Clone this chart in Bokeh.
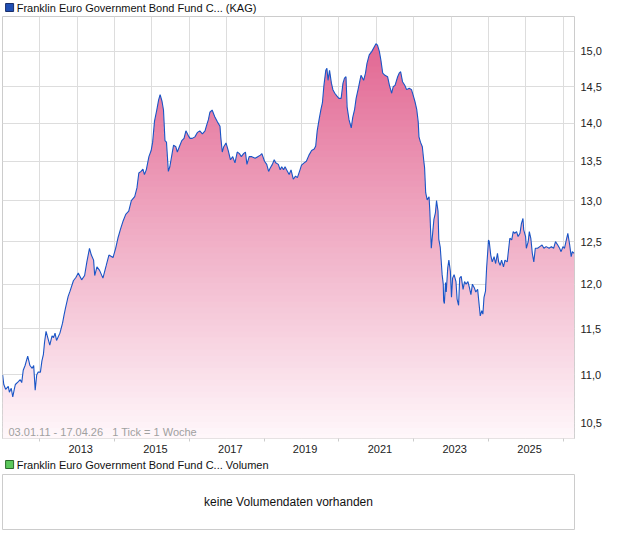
import numpy as np
from datetime import datetime, timezone
from bokeh.plotting import figure
from bokeh.layouts import column
from bokeh.models import Range1d, FixedTicker, CustomJSTickFormatter, Label
from bokeh.core.properties import value
from bokeh.embed import file_html
from bokeh.resources import INLINE

# ---------------- data ----------------
title_main = "Franklin Euro Government Bond Fund C... (KAG)"
title_vol = "Franklin Euro Government Bond Fund C... Volumen"
range_note = "03.01.11 - 17.04.26\u00a0\u00a0\u00a01 Tick = 1 Woche"
no_volume = "keine Volumendaten vorhanden"

# time as decimal years
t_years = [
    2011.01, 2011.04, 2011.09, 2011.16, 2011.19, 2011.24, 2011.28, 2011.32, 2011.35, 2011.43,
    2011.48, 2011.52, 2011.56, 2011.61, 2011.68, 2011.74, 2011.80, 2011.84, 2011.88, 2011.92,
    2011.96, 2012.02, 2012.06, 2012.10, 2012.13, 2012.17, 2012.23, 2012.27, 2012.33, 2012.37,
    2012.41, 2012.45, 2012.54, 2012.61, 2012.65, 2012.69, 2012.76, 2012.81, 2012.90, 2012.97,
    2013.03, 2013.12, 2013.20, 2013.26, 2013.33, 2013.38, 2013.44, 2013.47, 2013.53, 2013.60,
    2013.69, 2013.78, 2013.85, 2013.96, 2014.03, 2014.09, 2014.16, 2014.23, 2014.30, 2014.38,
    2014.45, 2014.54, 2014.60, 2014.65, 2014.71, 2014.76, 2014.80, 2014.85, 2014.92, 2014.98,
    2015.02, 2015.07, 2015.13, 2015.18, 2015.22, 2015.27, 2015.31, 2015.35, 2015.39, 2015.44,
    2015.48, 2015.54, 2015.58, 2015.64, 2015.68, 2015.75, 2015.80, 2015.86, 2015.91, 2015.97,
    2016.02, 2016.08, 2016.15, 2016.22, 2016.28, 2016.35, 2016.42, 2016.46, 2016.51, 2016.55,
    2016.61, 2016.68, 2016.75, 2016.82, 2016.84, 2016.88, 2016.92, 2016.98, 2017.04, 2017.10,
    2017.16, 2017.22, 2017.28, 2017.34, 2017.39, 2017.45, 2017.50, 2017.54, 2017.60, 2017.67,
    2017.76, 2017.83, 2017.90, 2017.94, 2018.01, 2018.07, 2018.12, 2018.16, 2018.22, 2018.27,
    2018.31, 2018.38, 2018.43, 2018.47, 2018.52, 2018.56, 2018.60, 2018.67, 2018.72, 2018.78,
    2018.84, 2018.89, 2018.96, 2019.00, 2019.07, 2019.13, 2019.20, 2019.27, 2019.34, 2019.38,
    2019.42, 2019.47, 2019.52, 2019.56, 2019.60, 2019.65, 2019.68, 2019.71, 2019.75, 2019.80,
    2019.84, 2019.89, 2019.95, 2020.00, 2020.06, 2020.11, 2020.15, 2020.19, 2020.22, 2020.27,
    2020.33, 2020.37, 2020.42, 2020.46, 2020.52, 2020.59, 2020.66, 2020.71, 2020.75, 2020.81,
    2020.88, 2020.95, 2020.99, 2021.03, 2021.08, 2021.12, 2021.17, 2021.23, 2021.30, 2021.35,
    2021.41, 2021.45, 2021.50, 2021.57, 2021.61, 2021.65, 2021.70, 2021.76, 2021.81, 2021.88,
    2021.94, 2021.98, 2022.03, 2022.08, 2022.12, 2022.14, 2022.18, 2022.23, 2022.27, 2022.29,
    2022.32, 2022.36, 2022.41, 2022.43, 2022.47, 2022.51, 2022.54, 2022.58, 2022.61, 2022.65,
    2022.67, 2022.71, 2022.76, 2022.79, 2022.80, 2022.82, 2022.85, 2022.87, 2022.91, 2022.94,
    2022.98, 2023.01, 2023.04, 2023.08, 2023.13, 2023.16, 2023.20, 2023.23, 2023.27, 2023.32,
    2023.36, 2023.40, 2023.45, 2023.49, 2023.53, 2023.57, 2023.62, 2023.66, 2023.71, 2023.74,
    2023.78, 2023.82, 2023.85, 2023.88, 2023.92, 2023.95, 2023.98, 2024.00, 2024.02, 2024.06,
    2024.10, 2024.15, 2024.19, 2024.24, 2024.27, 2024.31, 2024.35, 2024.40, 2024.44, 2024.50,
    2024.54, 2024.57, 2024.62, 2024.66, 2024.70, 2024.75, 2024.79, 2024.84, 2024.88, 2024.92,
    2024.94, 2024.99, 2025.01, 2025.06, 2025.09, 2025.13, 2025.17, 2025.21, 2025.25, 2025.31,
    2025.37, 2025.43, 2025.48, 2025.54, 2025.62, 2025.68, 2025.74, 2025.79, 2025.85, 2025.90,
    2025.94, 2025.99, 2026.03, 2026.07, 2026.12, 2026.17, 2026.21, 2026.24, 2026.29,
]
prices = [
    11.00, 10.90, 10.85, 10.88, 10.82, 10.86, 10.77, 10.85, 10.90, 10.93,
    10.95, 10.92, 11.05, 11.10, 11.20, 11.10, 11.07, 11.10, 10.84, 11.00,
    11.03, 11.03, 11.15, 11.22, 11.35, 11.47, 11.38, 11.32, 11.42, 11.40,
    11.45, 11.37, 11.45, 11.56, 11.65, 11.73, 11.86, 11.92, 12.04, 12.08,
    12.13, 12.05, 12.10, 12.26, 12.42, 12.34, 12.28, 12.10, 12.20, 12.16,
    12.07, 12.22, 12.34, 12.31, 12.42, 12.54, 12.65, 12.75, 12.83, 12.87,
    13.00, 13.05, 13.16, 13.35, 13.37, 13.40, 13.33, 13.39, 13.56, 13.64,
    13.75, 14.03, 14.18, 14.32, 14.39, 14.30, 14.18, 13.77, 13.75, 13.37,
    13.43, 13.60, 13.71, 13.69, 13.62, 13.71, 13.77, 13.80, 13.90, 13.84,
    13.80, 13.80, 13.82, 13.88, 13.90, 13.86, 13.90, 13.97, 14.05, 14.15,
    14.18, 14.09, 14.02, 13.96, 13.82, 13.62, 13.69, 13.74, 13.64, 13.52,
    13.56, 13.48, 13.62, 13.60, 13.56, 13.60, 13.62, 13.46, 13.56, 13.56,
    13.54, 13.56, 13.58, 13.60, 13.50, 13.46, 13.37, 13.41, 13.46, 13.52,
    13.48, 13.46, 13.39, 13.43, 13.39, 13.43, 13.39, 13.33, 13.39, 13.27,
    13.31, 13.29, 13.39, 13.45, 13.48, 13.50, 13.58, 13.64, 13.66, 13.70,
    13.90, 14.05, 14.19, 14.28, 14.52, 14.73, 14.76, 14.59, 14.73, 14.55,
    14.46, 14.41, 14.37, 14.34, 14.34, 14.55, 14.62, 14.64, 14.22, 14.05,
    13.94, 14.08, 14.19, 14.34, 14.48, 14.66, 14.59, 14.69, 14.83, 14.95,
    15.00, 15.07, 15.11, 15.09, 15.00, 14.88, 14.69, 14.66, 14.64, 14.52,
    14.41, 14.50, 14.52, 14.64, 14.69, 14.71, 14.57, 14.52, 14.46, 14.48,
    14.46, 14.39, 14.30, 14.19, 14.02, 13.82, 13.75, 13.69, 13.50, 13.42,
    13.10, 13.01, 13.05, 12.88, 12.42, 12.62, 12.77, 12.85, 13.00, 12.87,
    12.53, 12.43, 12.11, 12.00, 11.81, 11.78, 12.02, 11.91, 12.19, 12.28,
    12.15, 11.85, 12.07, 12.11, 12.03, 11.83, 11.76, 12.07, 12.09, 11.94,
    12.03, 12.00, 12.03, 11.96, 11.88, 12.00, 11.96, 11.91, 11.94, 11.81,
    11.64, 11.70, 11.66, 11.85, 11.92, 12.19, 12.38, 12.52, 12.50, 12.34,
    12.26, 12.32, 12.24, 12.36, 12.26, 12.22, 12.28, 12.20, 12.28, 12.26,
    12.42, 12.54, 12.52, 12.62, 12.60, 12.62, 12.56, 12.60, 12.72, 12.78,
    12.64, 12.56, 12.42, 12.50, 12.62, 12.54, 12.36, 12.26, 12.42, 12.42,
    12.44, 12.46, 12.42, 12.44, 12.42, 12.44, 12.42, 12.50, 12.46, 12.42,
    12.38, 12.44, 12.42, 12.50, 12.60, 12.46, 12.32, 12.38, 12.36,
]
y_ticks = [10.5, 11.0, 11.5, 12.0, 12.5, 13.0, 13.5, 14.0, 14.5, 15.0]
label_years = [2013, 2015, 2017, 2019, 2021, 2023, 2025]
grid_years = list(range(2012, 2027))
minor_years = [2012, 2014, 2016, 2018, 2020, 2022, 2024, 2026]

# ---------------- helpers ----------------
def ms(dt):
    return dt.replace(tzinfo=timezone.utc).timestamp() * 1000.0

def year_ms(t):
    y = int(t)
    a = ms(datetime(y, 1, 1))
    b = ms(datetime(y + 1, 1, 1))
    return a + (b - a) * (t - y)

x = np.array([year_ms(t) for t in t_years])
v = np.array(prices)

x_start = ms(datetime(2011, 1, 3))
x_end = ms(datetime(2026, 4, 20))
y_lo, y_hi = 10.35, 15.51

FONT = "Liberation Sans"
BLUE = "#1a55c6"
W = 604


def legend_row(text, fill, line, height, from_top):
    f = figure(width=W, height=height, x_range=Range1d(0, W), y_range=Range1d(0, height),
               x_axis_location=None, y_axis_location=None, output_backend="svg",
               toolbar_location=None, min_border=0)
    f.outline_line_color = None
    f.grid.visible = False
    f.scatter(x=[7.5], y=[height - from_top], marker="square", size=8,
              fill_color=fill, line_color=line)
    f.text(x=[15], y=[height - from_top], text=[text], text_font=value(FONT),
           text_font_size="11px", text_color="#111111", text_baseline="middle",
           text_align="left")
    return f


# ---------------- main chart ----------------
p = figure(width=W, height=441, x_axis_type="datetime", y_axis_type="log",
           y_axis_location="right", x_range=Range1d(x_start, x_end),
           y_range=Range1d(y_lo, y_hi), output_backend="svg", toolbar_location=None,
           min_border_left=2, min_border_right=0, min_border_top=2, min_border_bottom=0,
           background_fill_color="white", border_fill_color="white")
p.outline_line_color = "#cccccc"

# gradient fill, drawn as thin horizontal bands under the price line
n_bands = 70
edges = np.geomspace(y_lo, y_hi, n_bands + 1)
top = np.array([224, 94, 140])
bot = np.array([255, 248, 251])
for k in range(n_bands):
    a = edges[k] / 1.0015
    b = edges[k + 1]
    f = (np.log(np.sqrt(edges[k] * b)) - np.log(y_lo)) / (np.log(y_hi) - np.log(y_lo))
    c = bot + (top - bot) * f
    col = "#%02x%02x%02x" % tuple(int(round(q)) for q in c)
    y1 = np.minimum(v, a)
    y2 = np.minimum(v, b)
    p.varea(x=x, y1=y1, y2=y2, fill_color=col, fill_alpha=1.0)

p.line(x=x, y=v, line_color=BLUE, line_width=1.1)

yax = p.yaxis[0]
yax.ticker = FixedTicker(ticks=y_ticks, minor_ticks=[])
yax.formatter = CustomJSTickFormatter(code="return tick.toFixed(1).replace('.', ',');")
yax.axis_line_color = None
yax.major_tick_out = 0
yax.major_tick_in = 0
yax.minor_tick_out = 0
yax.major_label_standoff = 6
yax.major_label_text_font = FONT
yax.major_label_text_font_size = "11px"
yax.major_label_text_color = "#222222"

xax = p.xaxis[0]
label_pos = [ms(datetime(y, 2, 5)) for y in label_years]
xax.ticker = FixedTicker(ticks=label_pos, minor_ticks=[ms(datetime(y, 1, 1)) for y in minor_years])
xax.formatter = CustomJSTickFormatter(code="return String(new Date(tick).getUTCFullYear());")
xax.axis_line_color = None
xax.major_tick_out = 0
xax.major_tick_in = 0
xax.minor_tick_out = 3
xax.minor_tick_in = 0
xax.minor_tick_line_color = "#cccccc"
xax.major_label_standoff = 3
xax.major_label_text_font = FONT
xax.major_label_text_font_size = "11px"
xax.major_label_text_color = "#222222"

p.xgrid.ticker = FixedTicker(ticks=[ms(datetime(y, 1, 1)) for y in grid_years])
p.xgrid.grid_line_color = "#dddddd"
p.ygrid.grid_line_color = "#dddddd"

note = Label(x=x_start, y=y_lo, x_offset=6, y_offset=1, text=range_note,
             text_font=FONT, text_font_size="11px", text_color="#a0a0a0",
             text_baseline="bottom", text_align="left")
p.add_layout(note)

# ---------------- volume panel ----------------
p2 = figure(width=W, height=57, x_range=Range1d(0, 1), y_range=Range1d(0, 1),
            x_axis_location=None, y_axis_location=None, output_backend="svg",
            toolbar_location=None, min_border_left=2, min_border_right=20,
            min_border_top=1, min_border_bottom=1)
p2.outline_line_color = "#cccccc"
p2.grid.visible = False
p2.add_layout(Label(x=0.5, y=0.5, text=no_volume, text_align="center", text_baseline="middle",
                    text_font=FONT, text_font_size="12px", text_color="#111111"))

leg_main = legend_row(title_main, "#1f4fb4", "#1a2f6a", 14, 7)
leg_vol = legend_row(title_vol, "#5cc85c", "#2a6a2a", 18, 9)

layout = column(leg_main, p, leg_vol, p2, spacing=0)
open("out.html", "w").write(file_html(layout, INLINE))
